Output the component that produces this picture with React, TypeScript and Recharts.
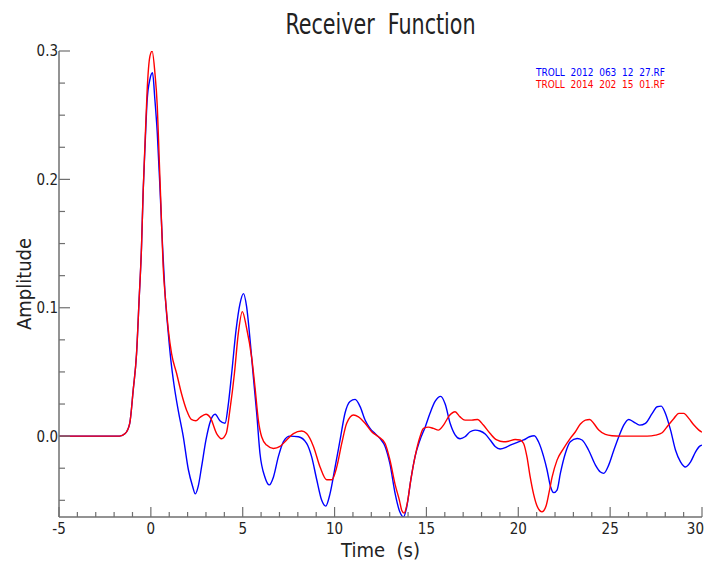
import { LineChart, Line, XAxis, YAxis, Legend } from 'recharts';

const FONT = "'Liberation Sans Narrow', 'DejaVu Sans Condensed', sans-serif";
const AXIS = '#6f6f6f';
const TEXT = '#222';

// axis ticks
const xMajor = [-5, 0, 5, 10, 15, 20, 25, 30];
const xTicks = [-5, -4, -3, -2, -1, 0, 1, 2, 3, 4, 5, 6, 7, 8, 9, 10, 11, 12, 13, 14, 15, 16, 17, 18, 19, 20, 21, 22, 23, 24, 25, 26, 27, 28, 29, 30];
const yMajor = [0, 0.1, 0.2, 0.3];
const yTicks = [-0.05, -0.025, 0, 0.025, 0.05, 0.075, 0.1, 0.125, 0.15, 0.175, 0.2, 0.225, 0.25, 0.275, 0.3];

// TROLL 2012 063 12 27.RF
const blueTime = [-5, -2, -1.7, -1.4, -1.15, -0.96, -0.78, -0.64, -0.51, -0.42, -0.31, -0.2, -0.05, 0.09, 0.22, 0.35, 0.5, 0.64, 0.76, 0.95, 1.09, 1.25, 1.49, 1.76, 2.04, 2.27, 2.42, 2.58, 2.76, 3.0, 3.25, 3.5, 3.76, 4.04, 4.2, 4.4, 4.64, 4.85, 5.04, 5.21, 5.4, 5.58, 5.76, 5.94, 6.21, 6.45, 6.67, 6.94, 7.21, 7.57, 8.03, 8.48, 8.75, 9.03, 9.3, 9.52, 9.75, 10.03, 10.3, 10.57, 10.84, 11.12, 11.39, 11.66, 11.93, 12.2, 12.48, 12.75, 13.02, 13.3, 13.55, 13.75, 13.93, 14.15, 14.38, 14.65, 14.93, 15.2, 15.47, 15.78, 16.02, 16.29, 16.56, 16.83, 17.1, 17.38, 17.65, 17.92, 18.2, 18.47, 18.74, 19.01, 19.29, 19.56, 19.92, 20.29, 20.61, 20.87, 21.1, 21.38, 21.56, 21.75, 21.93, 22.11, 22.29, 22.56, 22.83, 23.2, 23.47, 23.83, 24.2, 24.47, 24.65, 24.92, 25.2, 25.47, 25.74, 26.01, 26.29, 26.61, 26.92, 27.29, 27.56, 27.78, 28.01, 28.29, 28.56, 28.83, 29.1, 29.38, 29.65, 29.88, 30];
const blueAmp = [0, 0, 0, 0.002, 0.01, 0.036, 0.064, 0.106, 0.147, 0.19, 0.228, 0.262, 0.278, 0.283, 0.262, 0.236, 0.192, 0.147, 0.114, 0.08, 0.059, 0.041, 0.02, 0, -0.026, -0.039, -0.045, -0.039, -0.024, -0.003, 0.012, 0.017, 0.012, 0.01, 0.023, 0.049, 0.083, 0.103, 0.111, 0.101, 0.075, 0.046, 0.018, -0.0135, -0.032, -0.038, -0.032, -0.016, -0.0044, 0, -0.0005, -0.0057, -0.016, -0.034, -0.05, -0.0545, -0.045, -0.024, -0.003, 0.018, 0.027, 0.0286, 0.023, 0.0125, 0.006, 0.002, -0.002, -0.008, -0.022, -0.045, -0.059, -0.063, -0.055, -0.034, -0.016, -0.003, 0.007, 0.018, 0.027, 0.031, 0.025, 0.01, 0.001, -0.002, -0.0005, 0.0034, 0.0047, 0.004, 0.0016, -0.003, -0.008, -0.01, -0.009, -0.007, -0.005, -0.003, -0.0005, 0.0003, -0.0044, -0.016, -0.026, -0.039, -0.044, -0.042, -0.029, -0.0135, -0.0044, -0.0018, -0.003, -0.011, -0.0226, -0.028, -0.029, -0.0226, -0.011, -0.0005, 0.0086, 0.013, 0.011, 0.0086, 0.01, 0.0177, 0.0229, 0.0234, 0.0177, 0.0047, -0.011, -0.02, -0.024, -0.02, -0.0122, -0.0078, -0.007];

// TROLL 2014 202 15 01.RF
const redTime = [-5, -2, -1.7, -1.4, -1.15, -0.96, -0.78, -0.64, -0.51, -0.42, -0.31, -0.2, -0.05, 0.07, 0.22, 0.35, 0.45, 0.55, 0.67, 0.8, 0.95, 1.13, 1.4, 1.67, 1.95, 2.2, 2.45, 2.67, 3.0, 3.25, 3.58, 3.85, 4.1, 4.3, 4.55, 4.76, 4.98, 5.2, 5.5, 5.67, 5.85, 6.03, 6.3, 6.67, 7.03, 7.39, 7.76, 8.21, 8.48, 8.85, 9.21, 9.57, 9.85, 10.12, 10.39, 10.66, 11.03, 11.3, 11.66, 12.02, 12.39, 12.75, 13.02, 13.3, 13.53, 13.66, 13.78, 13.96, 14.15, 14.38, 14.65, 14.84, 15.11, 15.38, 15.65, 15.93, 16.25, 16.56, 16.83, 17.1, 17.47, 17.78, 18.1, 18.47, 18.83, 19.2, 19.47, 19.83, 20.1, 20.29, 20.47, 20.65, 20.83, 21.01, 21.29, 21.52, 21.7, 21.84, 22.11, 22.47, 22.83, 23.11, 23.38, 23.65, 23.89, 24.1, 24.38, 24.74, 25.1, 25.56, 26.29, 27.01, 27.47, 27.83, 28.1, 28.47, 28.74, 29.01, 29.28, 29.56, 29.83, 30];
const redAmp = [0, 0, 0, 0.002, 0.01, 0.036, 0.064, 0.106, 0.147, 0.19, 0.231, 0.27, 0.296, 0.3, 0.283, 0.257, 0.218, 0.179, 0.132, 0.106, 0.083, 0.064, 0.049, 0.033, 0.02, 0.013, 0.012, 0.0145, 0.017, 0.014, 0.002, -0.002, 0.002, 0.02, 0.049, 0.08, 0.097, 0.085, 0.06, 0.038, 0.0125, -0.0005, -0.007, -0.0096, -0.008, -0.003, 0.002, 0.004, 0.002, -0.008, -0.024, -0.034, -0.034, -0.024, -0.0057, 0.01, 0.0164, 0.015, 0.01, 0.0034, -0.0005, -0.0057, -0.019, -0.038, -0.05, -0.058, -0.06, -0.052, -0.034, -0.016, -0.0005, 0.006, 0.007, 0.006, 0.0047, 0.0086, 0.016, 0.019, 0.015, 0.0125, 0.0125, 0.013, 0.0086, 0.002, -0.003, -0.0044, -0.004, -0.0026, -0.003, -0.0057, -0.016, -0.032, -0.045, -0.054, -0.059, -0.054, -0.042, -0.032, -0.0187, -0.0096, -0.0018, 0.0034, 0.0094, 0.0125, 0.013, 0.01, 0.0047, 0.0013, 0.0003, 0, 0, 0, 0.0008, 0.0026, 0.0073, 0.0138, 0.0177, 0.0177, 0.0138, 0.0086, 0.0047, 0.003];

const blueData = blueTime.map((t, i) => ({ t, amp: blueAmp[i] }));
const redData = redTime.map((t, i) => ({ t, amp: redAmp[i] }));

const isYMajor = (v: number) => yMajor.some((m) => Math.abs(m - v) < 1e-9);

const BottomTick = ({ x, y, payload }: any) => {
  const major = xMajor.includes(payload.value);
  // keep the last label inside the picture
  const last = payload.value === xMajor[xMajor.length - 1];
  return (
    <g>
      <line x1={x} x2={x} y1={y} y2={y - (major ? 10 : 5)} stroke={AXIS} strokeWidth={1.2} />
      {major && (
        <text x={last ? x + 2 : x} y={y + 17} textAnchor={last ? 'end' : 'middle'} fontSize={15} fill={TEXT} fontFamily={FONT}>
          {payload.value}
        </text>
      )}
    </g>
  );
};

const TopTick = ({ x, y, payload }: any) => {
  const major = xMajor.includes(payload.value);
  return <line x1={x} x2={x} y1={y} y2={y + (major ? 10 : 5)} stroke={AXIS} strokeWidth={1.2} />;
};

const LeftTick = ({ x, y, payload }: any) => {
  const major = isYMajor(payload.value);
  return (
    <g>
      <line x1={x} x2={x + (major ? 11 : 6)} y1={y} y2={y} stroke={AXIS} strokeWidth={1.2} />
      {major && (
        <text x={x - 1} y={y} dy="0.36em" textAnchor="end" fontSize={15} fill={TEXT} fontFamily={FONT}>
          {payload.value.toFixed(1)}
        </text>
      )}
    </g>
  );
};

const RightTick = ({ x, y, payload }: any) => {
  const major = isYMajor(payload.value);
  return <line x1={x} x2={x - (major ? 11 : 6)} y1={y} y2={y} stroke={AXIS} strokeWidth={1.2} />;
};

const TimeLabel = ({ viewBox }: any) => (
  <text x={viewBox.x + viewBox.width / 2} y={viewBox.y + 40} textAnchor="middle" fontSize={20} fill={TEXT} fontFamily={FONT} style={{ whiteSpace: 'pre' }}>
    {'Time  (s)'}
  </text>
);

const AmpLabel = ({ viewBox }: any) => {
  const cx = viewBox.x + 24;
  const cy = viewBox.y + viewBox.height / 2;
  return (
    <text x={cx} y={cy} transform={`rotate(-90 ${cx} ${cy})`} textAnchor="middle" dy="0.36em" fontSize={20} fill={TEXT} fontFamily={FONT}>
      Amplitude
    </text>
  );
};

const LegendBox = ({ payload }: any) => (
  <div style={{ fontFamily: FONT, fontSize: 10, lineHeight: '12px', whiteSpace: 'pre' }}>
    {(payload || []).map((p: any) => (
      <div key={p.value} style={{ color: p.color }}>{p.value}</div>
    ))}
  </div>
);

export default function App() {
  return (
    <div style={{ position: 'absolute', left: 0, top: 0, width: 705, height: 564, background: '#fff' }}>
      <div style={{ position: 'absolute', left: 59, width: 643, top: 8, textAlign: 'center', fontFamily: FONT, fontSize: 28, color: TEXT, whiteSpace: 'pre', transform: 'scaleX(0.82)' }}>
        {'Receiver  Function'}
      </div>
      <LineChart width={705} height={564} margin={{ top: 51, right: 3, bottom: 0, left: 0 }}>
        <XAxis
          xAxisId={0}
          type="number"
          dataKey="t"
          domain={[-5, 30]}
          ticks={xTicks}
          interval={0}
          allowDataOverflow
          height={47}
          tickSize={0}
          tickMargin={0}
          tickLine={false}
          tick={<BottomTick />}
          axisLine={{ stroke: AXIS, strokeWidth: 1.5 }}
          label={{ content: TimeLabel }}
        />
        <XAxis
          xAxisId="top"
          orientation="top"
          type="number"
          dataKey="t"
          domain={[-5, 30]}
          ticks={xTicks}
          interval={0}
          allowDataOverflow
          height={0}
          tickSize={0}
          tickMargin={0}
          tickLine={false}
          tick={<TopTick />}
          axisLine={{ stroke: AXIS, strokeWidth: 1.5 }}
        />
        <YAxis
          yAxisId={0}
          type="number"
          domain={[-0.063, 0.3]}
          ticks={yTicks}
          interval={0}
          allowDataOverflow
          width={59}
          tickSize={0}
          tickMargin={0}
          tickLine={false}
          tick={<LeftTick />}
          axisLine={{ stroke: AXIS, strokeWidth: 1.5 }}
          label={{ content: AmpLabel }}
        />
        <YAxis
          yAxisId="right"
          orientation="right"
          type="number"
          domain={[-0.063, 0.3]}
          ticks={yTicks}
          interval={0}
          allowDataOverflow
          width={0}
          tickSize={0}
          tickMargin={0}
          tickLine={false}
          tick={<RightTick />}
          axisLine={{ stroke: AXIS, strokeWidth: 1.5 }}
        />
        <Legend
          layout="horizontal"
          verticalAlign="middle"
          align="center"
          content={<LegendBox />}
          wrapperStyle={{ position: 'absolute', top: 67, left: 536, width: 'auto', height: 'auto' }}
        />
        <Line
          data={blueData}
          dataKey="amp"
          name="TROLL  2012  063  12  27.RF"
          type="monotone"
          stroke="#0000ff"
          strokeWidth={1.4}
          dot={false}
          isAnimationActive={false}
        />
        <Line
          data={redData}
          dataKey="amp"
          name="TROLL  2014  202  15  01.RF"
          type="monotone"
          stroke="#ff0000"
          strokeWidth={1.4}
          dot={false}
          isAnimationActive={false}
        />
      </LineChart>
    </div>
  );
}
